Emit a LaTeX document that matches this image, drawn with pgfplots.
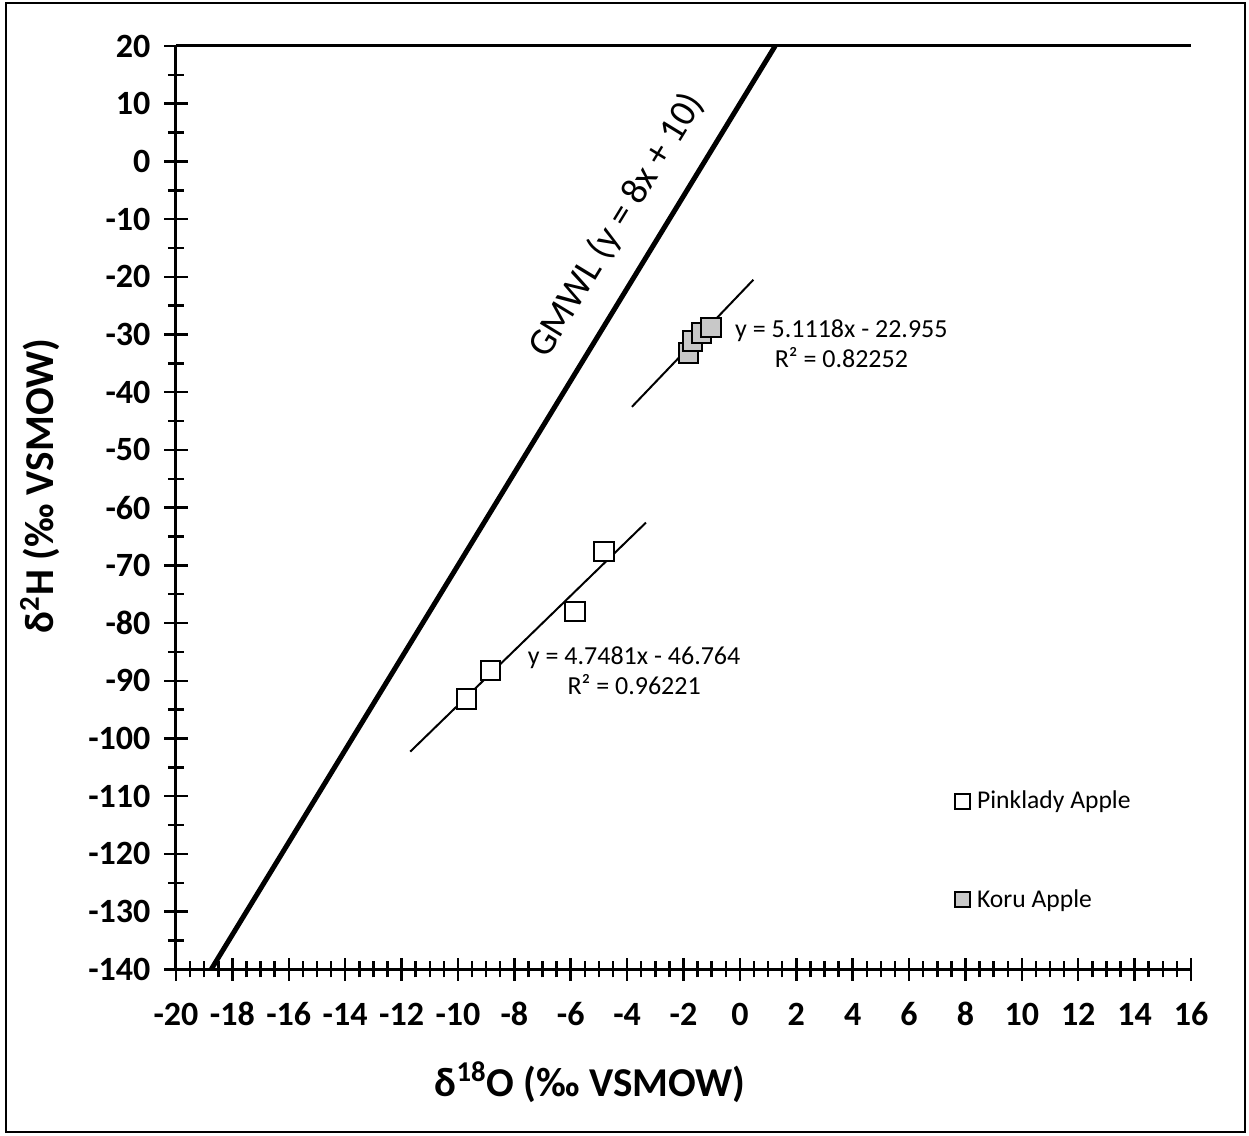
\documentclass[border=0pt]{standalone}
\usepackage{pgfplots}
\pgfplotsset{compat=1.18}
\usepackage{fontspec}
\setmainfont{Carlito}
\usetikzlibrary{calc}
\definecolor{korugray}{RGB}{200,200,200}
\begin{document}
\begin{tikzpicture}
\begin{axis}[
  scale only axis, width=507.5pt, height=461.65pt,
  xmin=-20, xmax=16, ymin=-140, ymax=20,
  axis lines*=left,
  axis line style={line width=1.5pt, black},
  xtick={-20,-18,...,16}, ytick={-140,-130,...,20},
  minor x tick num=3, minor y tick num=1,
  tick align=center, major tick length=11.5pt, minor tick length=8pt,
  tick style={black, line width=1.25pt},
  /pgf/number format/assume math mode=true,
  ticklabel style={font=\fontsize{17}{17}\selectfont\bfseries},
  xticklabel style={text height=12pt, text depth=0pt, yshift=-7pt},
  yticklabel style={xshift=-3.5pt},
  xlabel={δ\textsuperscript{18}O (‰ VSMOW)},
  ylabel={δ\textsuperscript{2}H (‰ VSMOW)},
  label style={font=\fontsize{20.5}{20.5}\selectfont\bfseries},
  xlabel style={at={(rel axis cs:0.408,-0.1224)}, anchor=center},
  ylabel style={at={(rel axis cs:-0.134,0.5235)}, anchor=center},
  clip=false,
  legend style={at={(axis cs:7.62,-108.3)}, anchor=north west, draw=none, fill=none,
    inner sep=0pt, row sep=35pt, font=\fontsize{12.8}{12.8}\selectfont,
    /tikz/every odd column/.append style={column sep=1.5pt}},
  legend cell align=left,
  legend image code/.code={\draw[#1,mark size=3.75pt] plot coordinates {(0pt,0pt)};},
]
% top border line
\addplot[black, line width=1.5pt, forget plot] coordinates {(-20,20) (16,20)};
% GMWL
\addplot[black, line width=2.5pt, forget plot] coordinates {(-18.75,-140) (1.25,20)};
% trendlines
\addplot[black, line width=1pt, forget plot] coordinates {(-11.69,-102.27) (-3.33,-62.58)};
\addplot[black, line width=1pt, forget plot] coordinates {(-3.83,-42.53) (0.48,-20.50)};
% data
\addplot[only marks, mark=square*, mark size=4.9pt,
  mark options={draw=black, fill=white, line width=1pt}]
  coordinates {(-9.69,-93.2) (-8.85,-88.2) (-5.85,-78.0) (-4.83,-67.6)};
\addlegendentry{Pinklady Apple}
\addplot[only marks, mark=square*, mark size=4.9pt,
  mark options={draw=black, fill=korugray, line width=1pt}]
  coordinates {(-1.83,-33.2) (-1.68,-31.1) (-1.36,-29.7) (-1.02,-28.8)};
\addlegendentry{Koru Apple}
\node[align=center, font=\fontsize{13}{15}\selectfont] at (axis cs:3.6,-31.6)
  {y = 5.1118x - 22.955\\R² = 0.82252};
\node[align=center, font=\fontsize{13}{15}\selectfont] at (axis cs:-3.75,-88.3)
  {y = 4.7481x - 46.764\\R² = 0.96221};
\node[rotate=58.6, font=\fontsize{19}{19}\selectfont] at (axis cs:-4.38,-11.1)
  {GMWL (y = 8x + 10)};
\end{axis}
\draw[line width=1pt] ($(current axis.south west)+(-85pt,-81.35pt)$) rectangle ($(current axis.north east)+(27pt,21.5pt)$);
\pgfresetboundingbox
\path ($(current axis.south west)+(-88pt,-82.85pt)$) rectangle ($(current axis.north east)+(29pt,23pt)$);
\end{tikzpicture}
\end{document}
